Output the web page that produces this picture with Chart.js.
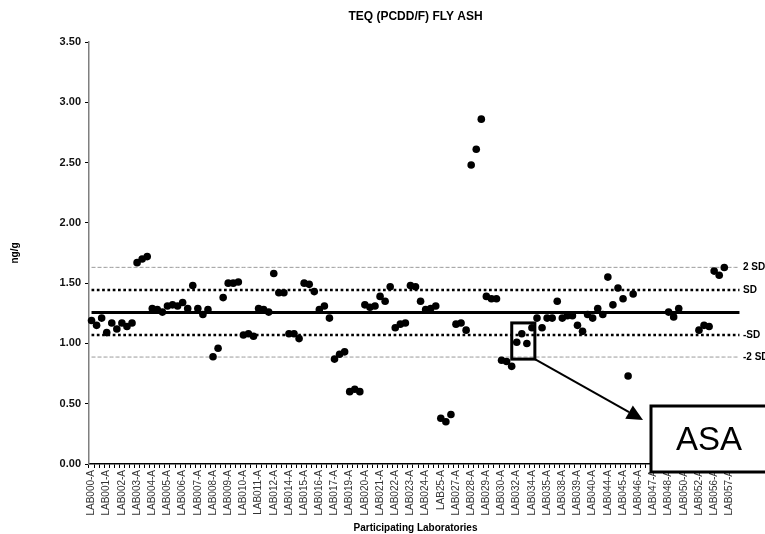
<!DOCTYPE html>
<html>
<head>
<meta charset="utf-8">
<title>TEQ (PCDD/F) FLY ASH</title>
<script src="https://cdn.jsdelivr.net/npm/chart.js@4.4.1/dist/chart.umd.min.js"></script>
<style>
  html, body { margin: 0; padding: 0; background: #fff; }
  #wrap { position: relative; width: 765px; height: 534px; }
</style>
</head>
<body>
<div id="wrap"><canvas id="teqChart"></canvas></div>
<script>
// TEQ (PCDD/F) in fly ash - interlab results, three replicates per lab

const TITLE = 'TEQ (PCDD/F) FLY ASH';

const LABS = [
    'LAB000-A', 'LAB001-A', 'LAB002-A', 'LAB003-A', 'LAB004-A', 'LAB005-A',
    'LAB006-A', 'LAB007-A', 'LAB008-A', 'LAB009-A', 'LAB010-A', 'LAB011-A',
    'LAB012-A', 'LAB014-A', 'LAB015-A', 'LAB016-A', 'LAB017-A', 'LAB019-A',
    'LAB020-A', 'LAB021-A', 'LAB022-A', 'LAB023-A', 'LAB024-A', 'LAB25-A',
    'LAB027-A', 'LAB028-A', 'LAB029-A', 'LAB030-A', 'LAB032-A', 'LAB034-A',
    'LAB035-A', 'LAB038-A', 'LAB039-A', 'LAB040-A', 'LAB044-A', 'LAB045-A',
    'LAB046-A', 'LAB047-A', 'LAB048-A', 'LAB050-A', 'LAB052-A', 'LAB056-A',
    'LAB057-A'
];

// replicate results (ng/g), one entry per lab, null = not reported
const REP_1 = [
    1.19, 1.09, 1.17, 1.67, 1.29, 1.31, 1.34, 1.29, 0.89, 1.50, 1.07, 1.29,
    1.58, 1.08, 1.50, 1.28, 0.87, 0.60, 1.32, 1.39, 1.13, 1.48, 1.28, 0.38,
    1.16, 2.48, 1.39, 0.86, 1.01, 1.13, 1.21, 1.21, 1.15, 1.21, 1.55, 1.37,
    null, null, 1.26, null, 1.11, 1.60, null
];
const REP_2 = [
    1.15, 1.17, 1.14, 1.70, 1.28, 1.32, 1.29, 1.24, 0.96, 1.50, 1.08, 1.28,
    1.42, 1.08, 1.49, 1.31, 0.91, 0.62, 1.30, 1.35, 1.16, 1.47, 1.29, 0.35,
    1.17, 2.61, 1.37, 0.85, 1.08, 1.21, 1.21, 1.23, 1.10, 1.29, 1.32, 0.73,
    null, null, 1.22, null, 1.15, 1.565, null
];
const REP_3 = [
    1.21, 1.12, 1.17, 1.72, 1.26, 1.31, 1.48, 1.28, 1.38, 1.51, 1.06, 1.26,
    1.42, 1.04, 1.43, 1.21, 0.93, 0.60, 1.31, 1.47, 1.17, 1.35, 1.31, 0.41,
    1.11, 2.86, 1.37, 0.81, 1.00, 1.13, 1.35, 1.23, 1.24, 1.24, 1.46, 1.41,
    null, null, 1.29, null, 1.14, 1.63, null
];

// assigned value and limits
const MEAN = 1.257;
const SD_HI = 1.443;
const SD_LO = 1.070;
const SD2_HI = 1.631;
const SD2_LO = 0.887;
const REF_LABELS = ['2 SD', 'SD', '-SD', '-2 SD'];
const REF_VALUES = [SD2_HI, SD_HI, SD_LO, SD2_LO];

const FONT = '"Liberation Sans", Arial, Helvetica, sans-serif';
Chart.defaults.font.family = FONT;

// one category per replicate, lab name on the first of each three
const labels = [];
const points = [];
LABS.forEach((lab, i) => {
    labels.push(lab, '', '');
    points.push(REP_1[i], REP_2[i], REP_3[i]);
});
const flat = (v) => new Array(labels.length).fill(v);

const overlay = {
    id: 'overlay',
    afterDraw(chart) {
        const { ctx, chartArea: a } = chart;
        const x = chart.scales.x, y = chart.scales.y;
        ctx.save();
        ctx.fillStyle = '#000';
        ctx.strokeStyle = '#000';

        // title
        ctx.font = 'bold 12px ' + FONT;
        ctx.textAlign = 'center';
        ctx.textBaseline = 'middle';
        ctx.fillText(TITLE, (a.left + a.right) / 2, 17);

        // SD labels at the end of the lines
        ctx.font = 'bold 10px ' + FONT;
        ctx.textAlign = 'left';
        REF_VALUES.forEach((v, i) => ctx.fillText(REF_LABELS[i], a.right + 1, y.getPixelForValue(v)));

        // box round the ASA lab
        const first = LABS.indexOf('LAB032-A') * 3;
        const bx0 = x.getPixelForValue(first) - 5;
        const bx1 = x.getPixelForValue(first + 2) + 8;
        const by0 = y.getPixelForValue(1.17);
        const by1 = y.getPixelForValue(0.87);
        ctx.lineWidth = 3;
        ctx.strokeRect(bx0, by0, bx1 - bx0, by1 - by0);

        // callout box
        const cx0 = a.right - 91, cy0 = a.bottom - 58, cw = 125, ch = 66;

        // arrow
        const tipX = cx0 - 8, tipY = cy0 + 14;
        const ang = Math.atan2(tipY - by1, tipX - bx1);
        const len = 16, half = 7.7;
        const baseX = tipX - len * Math.cos(ang), baseY = tipY - len * Math.sin(ang);
        ctx.lineWidth = 2;
        ctx.beginPath();
        ctx.moveTo(bx1, by1);
        ctx.lineTo(baseX, baseY);
        ctx.stroke();
        ctx.beginPath();
        ctx.moveTo(tipX, tipY);
        ctx.lineTo(baseX + half * Math.sin(ang), baseY - half * Math.cos(ang));
        ctx.lineTo(baseX - half * Math.sin(ang), baseY + half * Math.cos(ang));
        ctx.closePath();
        ctx.fill();

        ctx.fillStyle = '#fff';
        ctx.fillRect(cx0, cy0, cw, ch);
        ctx.lineWidth = 3;
        ctx.strokeRect(cx0, cy0, cw, ch);
        ctx.fillStyle = '#000';
        ctx.font = '33px ' + FONT;
        ctx.textAlign = 'center';
        ctx.fillText('ASA', cx0 + 58, cy0 + 35);
        ctx.restore();
    }
};

function refLine(value, color, width, dash) {
    return {
        data: flat(value),
        borderColor: color,
        borderWidth: width,
        borderDash: dash,
        pointRadius: 0,
        fill: false,
        order: 1
    };
}

new Chart(document.getElementById('teqChart'), {
    type: 'line',
    data: {
        labels: labels,
        datasets: [
            {
                label: 'TEQ',
                data: points,
                showLine: false,
                pointRadius: 3.8,
                pointHoverRadius: 3.8,
                pointBackgroundColor: '#000',
                pointBorderWidth: 0,
                order: 0
            },
            refLine(SD2_HI, '#9a9a9a', 1, [4, 2]),
            refLine(SD_HI, '#000', 2.5, [2.7, 2.6]),
            refLine(MEAN, '#000', 3, []),
            refLine(SD_LO, '#000', 2.5, [2.7, 2.6]),
            refLine(SD2_LO, '#9a9a9a', 1, [4, 2])
        ]
    },
    options: {
        responsive: true,
        maintainAspectRatio: false,
        animation: false,
        events: [],
        layout: { padding: { left: 0, right: 23, top: 42, bottom: 0 } },
        plugins: {
            legend: { display: false },
            tooltip: { enabled: false }
        },
        scales: {
            x: {
                type: 'category',
                offset: true,
                grid: { offset: true, drawOnChartArea: false, tickLength: 4, color: '#000', lineWidth: 1 },
                border: { color: '#000', width: 1.5 },
                ticks: { autoSkip: false, minRotation: 90, maxRotation: 90, padding: 2, color: '#333', font: { size: 10 } },
                title: { display: true, text: 'Participating Laboratories', color: '#000', font: { size: 10, weight: 'bold' }, padding: { top: 0, bottom: 0 } },
                afterFit(s) { s.height = 70; }
            },
            y: {
                min: 0,
                max: 3.5,
                grid: { drawOnChartArea: false, tickLength: 4, color: '#000' },
                border: { color: '#7f7f7f', width: 1.5 },
                ticks: { stepSize: 0.5, padding: 4, color: '#111', font: { size: 11, weight: 'bold' }, callback: (v) => v.toFixed(2) },
                title: { display: true, text: 'ng/g', color: '#000', font: { size: 10, weight: 'bold' }, padding: { top: 9, bottom: 0 } },
                afterFit(s) { s.width = 89; }
            }
        }
    },
    plugins: [overlay]
});
</script>
</body>
</html>
